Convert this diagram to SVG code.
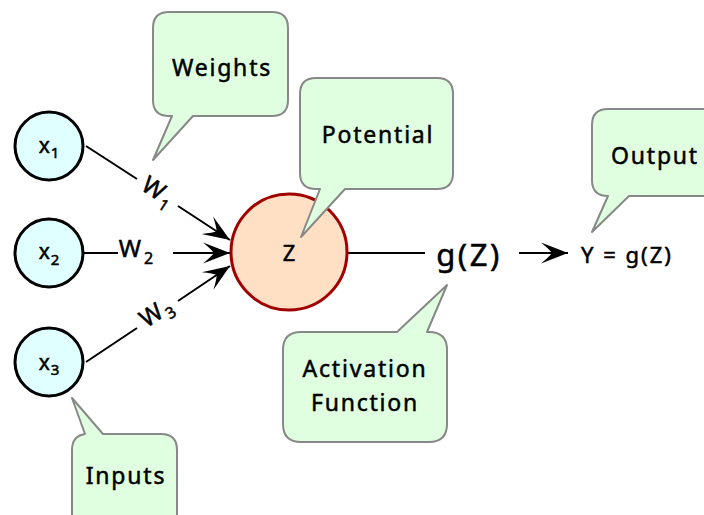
<svg xmlns="http://www.w3.org/2000/svg" width="704" height="515" viewBox="0 0 704 515">
<style>
  text { font-family: "Noto Sans", "DejaVu Sans", sans-serif; fill: #000; stroke: #000; stroke-width: 0.5px; }
  .inp { fill: #e0ffff; stroke: #000; stroke-width: 3; }
  .sum { fill: #ffe0c4; stroke: #a00000; stroke-width: 3; }
  .call { fill: #e0ffe0; stroke: #888; stroke-width: 2; stroke-linejoin: round; }
  .ct { font-size: 23px; letter-spacing: 1.8px; text-anchor: middle; }
  .edge { stroke: #000; stroke-width: 2; fill: none; }
  .arr { marker-end: url(#ah); }
  .lab { font-size: 24px; text-anchor: middle; }
  .sub { font-size: 16px; }
</style>
<defs>
  <marker id="ah" markerUnits="userSpaceOnUse" orient="auto" refX="0" refY="0" markerWidth="30" markerHeight="24" viewBox="-28 -12 30 24" overflow="visible">
    <path d="M0,0 L-27,-10.5 Q-18,-3 -16,0 Q-18,3 -27,10.5 Z" fill="#000"/>
  </marker>
</defs>

<g id="connectors">
  <line class="edge" x1="86" y1="146" x2="137" y2="179"/>
  <line class="edge arr" x1="178" y1="206" x2="230" y2="240"/>
  <line class="edge" x1="84" y1="253" x2="118" y2="253"/>
  <line class="edge arr" x1="173" y1="253" x2="230" y2="253"/>
  <line class="edge" x1="86" y1="362" x2="137" y2="328"/>
  <line class="edge arr" x1="178" y1="301" x2="230" y2="266"/>
  <line class="edge" x1="348" y1="253" x2="425" y2="253"/>
  <line class="edge arr" x1="519" y1="253" x2="568" y2="253"/>
  <text class="lab" transform="translate(157,193) rotate(33)" y="6">W<tspan class="sub" dx="2" dy="6">1</tspan></text>
  <text class="lab" x="136" y="257">W<tspan class="sub" dx="3" dy="7">2</tspan></text>
  <text class="lab" transform="translate(157,314) rotate(-33.7)" y="6">W<tspan class="sub" dx="2" dy="6">3</tspan></text>
</g>

<g id="x1">
  <circle class="inp" cx="49" cy="146" r="34"/>
  <text x="49" y="153" font-size="21" text-anchor="middle">x<tspan font-size="15" dx="1" dy="5">1</tspan></text>
</g>
<g id="x2">
  <circle class="inp" cx="49" cy="253" r="34"/>
  <text x="49" y="259" font-size="21" text-anchor="middle">x<tspan font-size="15" dx="1" dy="6">2</tspan></text>
</g>
<g id="x3">
  <circle class="inp" cx="49" cy="362" r="34"/>
  <text x="49" y="370" font-size="21" text-anchor="middle">x<tspan font-size="15" dx="1" dy="5">3</tspan></text>
</g>

<g id="z">
  <circle class="sum" cx="289" cy="252" r="58"/>
  <text x="289" y="261" font-size="22" text-anchor="middle">Z</text>
</g>

<g id="gz">
  <text x="469" y="266" font-size="31" letter-spacing="2.5" text-anchor="middle">g(Z)</text>
</g>

<g id="y">
  <text x="627" y="263" font-size="22" letter-spacing="2" text-anchor="middle">Y = g(Z)</text>
</g>

<g id="weights">
  <path class="call" d="M169,12 H272 Q288,12 288,28 V100 Q288,116 272,116 H193 L153,160 L172,116 H169 Q153,116 153,100 V28 Q153,12 169,12 Z"/>
  <text class="ct" x="222" y="76">Weights</text>
</g>

<g id="potential">
  <path class="call" d="M316,78 H437 Q453,78 453,94 V173 Q453,189 437,189 H345 L301,237 L320,189 H316 Q300,189 300,173 V94 Q300,78 316,78 Z"/>
  <text class="ct" x="378" y="143">Potential</text>
</g>

<g id="output">
  <path class="call" d="M608,109 H722 V196 H629 L592,232 L608,196 Q592,196 592,180 V125 Q592,109 608,109 Z"/>
  <text class="ct" x="655" y="164">Output</text>
</g>

<g id="activation">
  <path class="call" d="M301,332 H397 L447,285 L427,332 H429 Q447,332 447,350 V424 Q447,442 429,442 H301 Q283,442 283,424 V350 Q283,332 301,332 Z"/>
  <text class="ct" x="365" y="377">Activation</text>
  <text class="ct" x="365" y="411">Function</text>
</g>

<g id="inputs">
  <path class="call" d="M72,450 Q72,436 85,434 L72,398 L103,434 H161 Q177,434 177,450 V530 H72 Z"/>
  <text class="ct" x="126" y="484">Inputs</text>
</g>
</svg>
